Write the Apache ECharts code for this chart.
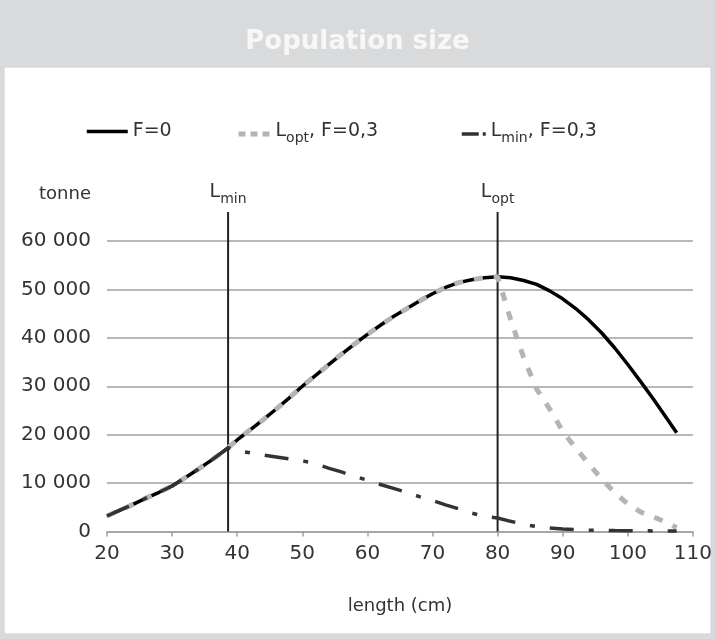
<!DOCTYPE html>
<html>
<head>
<meta charset="utf-8">
<script src="https://cdn.jsdelivr.net/npm/echarts@6/dist/echarts.min.js"></script>
<style>html,body{margin:0;padding:0;background:#fff}#c{width:715px;height:639px}</style>
</head>
<body>
<div id="c"></div>
<script>
// ---- data ----
var TITLE = 'Population size';
var LENGTHS = [20,22,24,26,28,30,32,34,36,38,38.6,40,42,44,46,48,50,52,54,56,58,60,62,64,66,68,70,72,74,76,78,80,82,84,86,88,90,92,94,96,98,100,102,104,106,107.5];
var F0 = [3200,4400,5600,6900,8100,9400,11100,12850,14700,16650,17300,18900,21000,23100,25300,27600,30000,32200,34400,36600,38700,40700,42600,44400,46000,47600,49100,50400,51400,52000,52400,52600,52400,51850,51050,49700,48050,46050,43700,41000,37900,34500,30900,27200,23350,20400];
var LOPT_F03 = [3200,4400,5600,6900,8100,9400,11100,12850,14700,16650,17300,18900,21000,23100,25300,27600,30000,32200,34400,36600,38700,40700,42600,44400,46000,47600,49100,50400,51400,52000,52400,52600,43800,35900,29400,25300,20700,17200,14000,10800,8000,5700,4000,3000,1800,800];
var LMIN_F03 = [3200,4400,5600,6900,8100,9400,11100,12850,14700,16650,17300,16700,16250,15800,15400,15000,14600,14000,13100,12300,11400,10600,9700,8900,8100,7200,6400,5500,4700,3800,3100,2800,2100,1500,1000,700,500,400,300,250,200,170,140,120,100,80];
var LMIN = 38.6;
var LOPT = 80;
var MARK_TOP = 66000;
var X_TICKS = [20,30,40,50,60,70,80,90,100,110];
var Y_TICKS = [0,10000,20000,30000,40000,50000,60000];

function pairs(xs, ys){ return xs.map(function(x,i){ return [x, ys[i]]; }); }
function fmt(v){ return String(v).replace(/\B(?=(\d{3})+(?!\d))/g, ' '); }

var FONT = 'DejaVu Sans';
var rich = {
  a: {fontFamily: FONT, fontSize: 19, color: '#333', verticalAlign: 'top', lineHeight: 24},
  s: {fontFamily: FONT, fontSize: 14, color: '#333', verticalAlign: 'top', lineHeight: 16, padding: [9,0,0,0]}
};

function vline(x, sub){
  return {
    name: 'L' + sub, type: 'line', silent: true, clip: false, z: 1,
    symbol: 'circle', symbolSize: 0.01,
    lineStyle: {color: '#222', width: 2},
    itemStyle: {color: '#222'},
    data: [
      [x, 0],
      {value: [x, MARK_TOP], label: {show: true, position: 'top', distance: 5,
        formatter: '{a|L}{s|' + sub + '}', rich: rich}}
    ]
  };
}

var chart = echarts.init(document.getElementById('c'), null, {renderer: 'canvas'});
var option = {
  animation: false,
  backgroundColor: '#d9dadc',
  graphic: [
    {type: 'rect', z: -10, shape: {x: 4, y: 67, width: 707, height: 567}, style: {fill: '#ffffff', stroke: '#cfd0d2', lineWidth: 1}}
  ],
  title: {
    text: TITLE, left: 'center', top: 24,
    textStyle: {color: '#f7f7f7', fontFamily: FONT, fontSize: 26, fontWeight: 'bold'}
  },
  legend: [
    {data: ['F=0'], left: 85, top: 122, padding: 0, itemWidth: 41, itemHeight: 14,
     itemStyle: {opacity: 0}, lineStyle: {width: 3.5},
     textStyle: {fontFamily: FONT, fontSize: 19, color: '#333'}},
    {data: ['Lopt, F=0,3'], left: 236, top: 122, padding: 0, itemWidth: 32, itemHeight: 14,
     itemStyle: {opacity: 0}, lineStyle: {width: 5, type: [7, 5]},
     formatter: function(){ return '{a|L}{s|opt}{a|, F=0,3}'; },
     textStyle: {rich: rich}},
    {data: ['Lmin, F=0,3'], left: 460, top: 122, padding: 0, itemWidth: 24, itemHeight: 14,
     itemStyle: {opacity: 0}, lineStyle: {width: 3.5, type: [17, 4, 4, 30]},
     formatter: function(){ return '{a|L}{s|min}{a|, F=0,3}'; },
     textStyle: {rich: rich}}
  ],
  grid: {left: 107, right: 18, top: 241, bottom: 107.5, containLabel: false},
  xAxis: {
    type: 'value', min: X_TICKS[0], max: X_TICKS[X_TICKS.length-1], interval: 10,
    name: 'length (cm)', nameLocation: 'middle', nameGap: 66,
    nameTextStyle: {fontFamily: FONT, fontSize: 18, color: '#333'},
    axisLine: {show: true, lineStyle: {color: '#a0a0a0', width: 1.5}},
    axisTick: {show: true, length: 5, lineStyle: {color: '#a0a0a0', width: 1.5}},
    axisLabel: {fontFamily: FONT, fontSize: 20, color: '#333', margin: 12},
    splitLine: {show: false}
  },
  yAxis: {
    type: 'value', min: Y_TICKS[0], max: Y_TICKS[Y_TICKS.length-1], interval: 10000,
    name: 'tonne', nameLocation: 'end', nameGap: 38,
    nameTextStyle: {fontFamily: FONT, fontSize: 18, color: '#333', align: 'right', padding: [0, 16, 0, 0]},
    axisLine: {show: false}, axisTick: {show: false},
    axisLabel: {fontFamily: FONT, fontSize: 20, color: '#333', margin: 16, formatter: fmt},
    splitLine: {show: true, lineStyle: {color: '#a0a0a0', width: 1.5}}
  },
  series: [
    vline(LMIN, 'min'),
    vline(LOPT, 'opt'),
    {
      name: 'F=0', type: 'line', data: pairs(LENGTHS, F0), symbol: 'none', z: 2,
      lineStyle: {color: '#000', width: 3.5},
      itemStyle: {color: '#000'}
    },
    {
      name: 'Lopt, F=0,3', type: 'line', data: pairs(LENGTHS, LOPT_F03), symbol: 'none', z: 3,
      lineStyle: {color: '#b4b4b4', width: 5, type: [9, 11]},
      itemStyle: {color: '#b4b4b4'}
    },
    {
      name: 'Lmin, F=0,3', type: 'line', data: pairs(LENGTHS, LMIN_F03), symbol: 'none', z: 4,
      lineStyle: {color: '#333', width: 3.5, type: [24, 15, 5, 15]},
      itemStyle: {color: '#333'}
    }
  ]
};
chart.setOption(option);
</script>
</body>
</html>
